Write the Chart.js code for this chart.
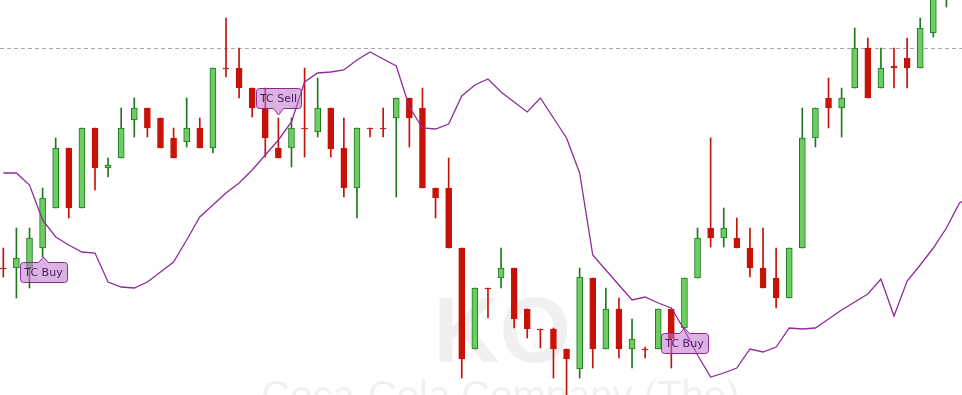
<!DOCTYPE html>
<html>
<head>
<meta charset="utf-8">
<script src="https://cdn.jsdelivr.net/npm/chart.js@4/dist/chart.umd.min.js"></script>
<style>
  html, body { margin: 0; padding: 0; background: #fff; }
  #wrap { width: 962px; height: 395px; }
</style>
</head>
<body>
<div id="wrap"><canvas id="ko" width="962" height="395"></canvas></div>
<script>
// daily candles, oldest first (price in $)
const open  = [39.32,39.32,39.32,39.52,39.92,40.52,39.92,40.72,40.32,40.42,40.80,40.92,40.82,40.62,40.58,40.72,40.52,41.32,41.32,41.12,
               40.92,40.52,40.52,40.72,40.68,40.92,40.52,40.12,40.72,40.72,40.82,41.02,40.92,40.12,40.12,39.52,38.51,39.12,39.22,39.32,
               38.91,38.71,38.71,38.51,38.31,39.22,38.51,38.91,38.51,38.51,38.51,38.91,38.72,39.22,39.72,39.62,39.62,39.52,39.32,39.22,
               39.02,39.52,40.62,41.02,40.92,41.12,41.52,41.12,41.34,41.42,41.32,41.67,42.10];
const high  = [39.52,39.72,39.72,40.12,40.62,40.52,40.72,40.72,40.42,40.92,41.02,40.92,40.82,40.72,41.02,40.82,41.32,41.82,41.52,41.12,
               41.12,40.82,40.82,41.32,41.22,40.92,40.82,40.72,40.72,40.92,41.02,41.02,41.12,40.12,40.42,39.52,39.12,39.12,39.52,39.32,
               38.91,38.71,38.72,38.51,39.32,39.22,39.12,39.02,38.81,38.53,38.91,38.91,39.22,39.72,40.62,39.92,39.82,39.72,39.72,39.52,
               39.52,40.92,40.92,41.22,41.12,41.72,41.62,41.52,41.52,41.62,41.82,42.12,42.40];
const low   = [39.23,39.02,39.12,39.43,39.92,39.82,39.92,40.10,40.23,40.42,40.63,40.63,40.52,40.42,40.53,40.52,40.47,41.23,41.02,40.83,
               40.43,40.42,40.33,40.43,40.63,40.43,40.03,39.82,40.63,40.63,40.03,40.53,40.12,39.82,39.52,38.22,38.51,38.82,39.12,38.72,
               38.62,38.52,38.22,38.02,38.22,38.32,38.51,38.42,38.32,38.42,38.51,38.32,38.72,39.22,39.53,39.53,39.52,39.23,39.12,38.92,
               39.02,39.52,40.53,40.72,40.63,41.12,41.02,41.12,41.12,41.12,41.32,41.63,41.93];
const close = [39.31,39.42,39.62,40.02,40.52,39.92,40.72,40.32,40.35,40.72,40.92,40.72,40.52,40.42,40.72,40.52,41.32,41.31,41.12,40.92,
               40.62,40.42,40.72,40.71,40.92,40.51,40.12,40.72,40.71,40.71,41.02,40.82,40.12,40.02,39.52,38.41,39.12,39.11,39.32,38.81,
               38.71,38.70,38.51,38.41,39.23,38.51,38.91,38.51,38.61,38.50,38.91,38.61,39.22,39.62,39.62,39.72,39.52,39.32,39.12,39.02,
               39.52,40.62,40.92,40.92,41.02,41.52,41.02,41.32,41.32,41.32,41.72,42.05,42.30];

// lower band overlay
const band = [40.27,40.27,40.15,39.80,39.63,39.55,39.48,39.47,39.18,39.13,39.12,39.18,39.28,39.38,39.60,39.83,39.95,40.07,40.17,40.30,
              40.45,40.60,40.78,41.18,41.27,41.28,41.30,41.40,41.48,41.41,41.34,40.93,40.72,40.71,40.76,41.04,41.15,41.21,41.08,40.98,
              40.88,41.02,40.82,40.62,40.27,39.45,39.30,39.15,39.00,39.03,38.97,38.92,38.70,38.45,38.23,38.27,38.32,38.51,38.48,38.53,
              38.72,38.71,38.72,38.81,38.90,38.98,39.06,39.21,38.84,39.19,39.35,39.52,39.72,39.97,40.05];

const refLevel = 41.52;
const signalIdx  = [3, 21, 52];
const signalText = ['TC Buy', 'TC Sell', 'TC Buy'];

const up = i => close[i] >= open[i];
const GREEN = 'rgb(108,206,96)', GREEN_DARK = 'rgb(30,120,30)', RED = 'rgb(200,18,8)';

const wicks  = open.map((o, i) => ({ x: i, y: [low[i], high[i]] }));
const bodies = open.map((o, i) => ({ x: i, y: [o, close[i]] }));
const bandPts = band.map((v, i) => ({ x: i, y: v }));

function roundedBox(ctx, l, t, r, b, cx, tipY, down) {
  const rad = 3, w = 5;
  ctx.beginPath();
  ctx.moveTo(l + rad, t);
  if (!down) { ctx.lineTo(cx - w, t); ctx.lineTo(cx, tipY); ctx.lineTo(cx + w, t); }
  ctx.arcTo(r, t, r, b, rad);
  ctx.arcTo(r, b, l, b, rad);
  if (down) { ctx.lineTo(cx + w, b); ctx.lineTo(cx, tipY); ctx.lineTo(cx - w, b); }
  ctx.arcTo(l, b, l, t, rad);
  ctx.arcTo(l, t, r, t, rad);
  ctx.closePath();
}

const extras = {
  id: 'extras',
  beforeDatasetsDraw(chart) {
    const { ctx, chartArea: a } = chart;
    ctx.save();
    ctx.textAlign = 'center';
    ctx.fillStyle = 'rgba(0,0,0,0.06)';
    ctx.font = 'bold 92px "Liberation Sans", Arial, sans-serif';
    ctx.fillText('KO', a.left + a.width * 0.522, a.top + 362);
    ctx.font = '40px "Liberation Sans", Arial, sans-serif';
    ctx.fillText('Coca-Cola Company (The)', a.left + a.width * 0.52, a.top + 409);
    // dashed level
    const y = Math.round(chart.scales.y.getPixelForValue(refLevel)) + 0.5;
    ctx.strokeStyle = '#a6a6a6';
    ctx.lineWidth = 1;
    ctx.setLineDash([4, 3]);
    ctx.beginPath();
    ctx.moveTo(a.left, y);
    ctx.lineTo(a.right, y);
    ctx.stroke();
    ctx.restore();
  },
  afterDatasetsDraw(chart) {
    const { ctx } = chart;
    const xs = chart.scales.x, ys = chart.scales.y;
    ctx.save();
    ctx.font = '11px "DejaVu Sans", Verdana, sans-serif';
    signalIdx.forEach((i, k) => {
      const txt = signalText[k];
      const sell = txt.indexOf('Sell') >= 0;
      const cx = Math.round(xs.getPixelForValue(i)) + 0.5;
      const tw = ctx.measureText(txt).width;
      const l = Math.round(cx - tw / 2 - 4) + 0.5, r = Math.round(cx + tw / 2 + 4) + 0.5;
      let t, b, tip;
      if (sell) {
        tip = Math.round(ys.getPixelForValue(high[i])) - 3;
        b = tip - 6.5; t = b - 20;
      } else {
        tip = Math.round(ys.getPixelForValue(low[i]));
        t = tip + 5.5; b = t + 20;
      }
      roundedBox(ctx, l, t, r, b, cx, tip, sell);
      ctx.fillStyle = 'rgba(190,115,200,0.55)';
      ctx.fill();
      ctx.strokeStyle = 'rgb(140,40,150)';
      ctx.lineWidth = 1;
      ctx.stroke();
      ctx.fillStyle = 'rgb(78,22,104)';
      ctx.textAlign = 'center';
      ctx.textBaseline = 'middle';
      ctx.fillText(txt, cx, (t + b) / 2 + 1);
    });
    ctx.restore();
  }
};

new Chart(document.getElementById('ko'), {
  type: 'bar',
  data: {
    datasets: [
      {
        type: 'line',
        data: bandPts,
        borderColor: 'rgb(142,44,152)',
        borderWidth: 1.3,
        pointRadius: 0,
        tension: 0,
        order: 0,
      },
      {
        data: bodies,
        grouped: false,
        barThickness: 6,
        backgroundColor: c => up(c.dataIndex) ? GREEN : RED,
        borderColor: c => up(c.dataIndex) ? GREEN_DARK : RED,
        borderWidth: 1,
        borderSkipped: false,
        order: 1,
      },
      {
        data: wicks,
        grouped: false,
        barThickness: 1,
        backgroundColor: c => up(c.dataIndex) ? GREEN_DARK : RED,
        borderWidth: 0,
        order: 2,
      },
    ],
  },
  options: {
    responsive: false,
    animation: false,
    devicePixelRatio: 1,
    layout: { padding: 0 },
    plugins: { legend: { display: false }, tooltip: { enabled: false } },
    scales: {
      x: { type: 'linear', min: -0.252, max: 73.19, offset: false, display: false },
      y: { min: 38.05, max: 42.0, display: false },
    },
  },
  plugins: [extras],
});
</script>
</body>
</html>
